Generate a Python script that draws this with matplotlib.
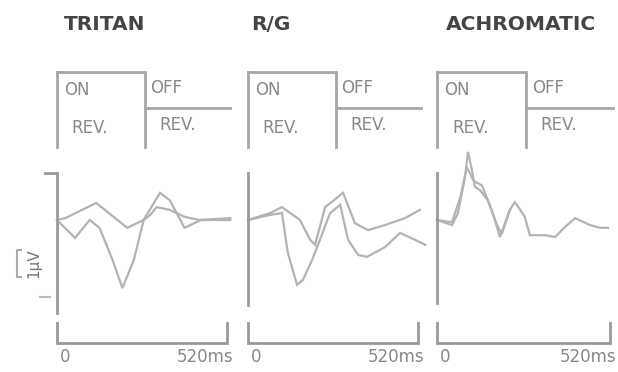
import matplotlib
matplotlib.use("Agg")
import matplotlib.pyplot as plt
from matplotlib.transforms import blended_transform_factory

# ---------------- data (time in ms, amplitude in microvolts) ----------------
titles = ["TRITAN", "R/G", "ACHROMATIC"]

tritan_t1 = [0, 25, 120, 215, 265, 315, 345, 390, 440, 530]
tritan_v1 = [0, 0.04, 0.37, -0.17, 0, 0.59, 0.43, -0.17, 0, 0]
tritan_t2 = [0, 55, 100, 130, 170, 200, 235, 265, 285, 305, 345, 390, 435, 530]
tritan_v2 = [0, -0.39, 0, -0.17, -0.87, -1.48, -0.87, 0, 0.11, 0.28, 0.22, 0.07, 0, 0.04]

rg_t1 = [0, 67, 104, 159, 190, 205, 236, 291, 327, 367, 419, 480, 526]
rg_v1 = [0, 0.15, 0.28, 0, -0.43, -0.54, 0.28, 0.59, -0.07, -0.22, -0.11, 0.04, 0.22]
rg_t2 = [0, 67, 104, 122, 150, 168, 196, 220, 251, 282, 306, 337, 364, 419, 465, 511, 542]
rg_v2 = [0, 0.11, 0.15, -0.72, -1.41, -1.30, -0.87, -0.43, 0.15, 0.33, -0.43, -0.76, -0.80,
         -0.59, -0.28, -0.43, -0.54]

ach_t1 = [0, 45, 63, 84, 93, 105, 114, 129, 153, 174, 189, 219, 234, 264, 279, 325, 355,
          385, 415, 460, 490, 514]
ach_v1 = [0, -0.11, 0.15, 0.93, 1.48, 1.09, 0.72, 0.65, 0.43, 0, -0.37, 0.22, 0.39, 0.07,
          -0.33, -0.33, -0.37, -0.15, 0.04, -0.11, -0.17, -0.17]
ach_t2 = [0, 45, 70, 90, 110, 135, 160, 180, 195, 219]
ach_v2 = [0, -0.05, 0.5, 1.15, 0.85, 0.75, 0.3, -0.1, -0.3, 0.22]

traces = [
    [(tritan_t1, tritan_v1), (tritan_t2, tritan_v2)],
    [(rg_t1, rg_v1), (rg_t2, rg_v2)],
    [(ach_t1, ach_v1), (ach_t2, ach_v2)],
]

stim_on_ms = 268
stim_end_ms = 530
time_labels = ["0", "520ms"]
amp_label = "1\u03bcV"

# ---------------- layout (pixels) ----------------
W, H = 618, 372
fig = plt.figure(figsize=(W / 100, H / 100), dpi=100)
over = fig.add_axes([0, 0, 1, 1])
over.set_xlim(0, W)
over.set_ylim(H, 0)
over.axis("off")

panel_x0 = [57, 248, 437]      # pixel of t = 0
panel_w = [170, 170, 173]      # pixels for 520 ms
vaxis_bottom = [-2.02, -1.85, -1.80]
y_zero_px = 220
px_per_uv = 46
ax_top_px, ax_bot_px = 172, 344

title_x = [105, 271, 521]

axis_col = "#999999"
trace_col = "#b3b3b3"
stim_col = "#a6a6a6"
text_col = "#888888"

for i in range(3):
    x0, w = panel_x0[i], panel_w[i]
    ax = fig.add_axes([x0 / W, 1 - ax_bot_px / H, w / W, (ax_bot_px - ax_top_px) / H])
    ax.set_xlim(0, 520)
    ax.set_ylim((y_zero_px - ax_bot_px) / px_per_uv, (y_zero_px - ax_top_px) / px_per_uv)
    ax.axis("off")

    # traces
    for t, v in traces[i]:
        ax.plot(t, v, color=trace_col, lw=1.6, clip_on=False, solid_joinstyle="miter")

    # vertical amplitude axis
    ax.plot([0, 0], [vaxis_bottom[i], 1.02], color=axis_col, lw=2, clip_on=False)
    # time axis with end ticks
    ybase = (y_zero_px - 343) / px_per_uv
    ytick = (y_zero_px - 323) / px_per_uv
    ax.plot([0, 0, 520, 520], [ytick, ybase, ybase, ytick], color=axis_col, lw=2,
            clip_on=False, solid_joinstyle="miter")

    # time labels
    tr_t = blended_transform_factory(ax.transData, over.transData)
    over.text(24, 357, time_labels[0], transform=tr_t, ha="center", va="center",
              fontsize=12, color=text_col)
    over.text(540, 357, time_labels[1], transform=tr_t, ha="right", va="center",
              fontsize=12, color=text_col)

    # stimulus diagram
    over.plot([0, 0], [147, 72], transform=tr_t, color=stim_col, lw=2)
    over.plot([0, stim_on_ms, stim_on_ms], [72, 72, 147], transform=tr_t, color=stim_col,
              lw=2, solid_joinstyle="miter")
    over.plot([stim_on_ms, stim_end_ms], [108, 108], transform=tr_t, color=stim_col, lw=2)
    over.text(22, 90, "ON", transform=tr_t, ha="left", va="center", fontsize=12,
              color=text_col)
    over.text(285, 88, "OFF", transform=tr_t, ha="left", va="center", fontsize=12,
              color=text_col)
    over.text(45, 128, "REV.", transform=tr_t, ha="left", va="center", fontsize=12,
              color=text_col)
    over.text(312, 125, "REV.", transform=tr_t, ha="left", va="center", fontsize=12,
              color=text_col)

    # title
    over.text(title_x[i], 24, titles[i], ha="center", va="center", fontsize=14.5,
              fontweight="bold", color="#444444")

# amplitude scale marks
over.plot([45, 57], [173, 173], color=axis_col, lw=2)
over.plot([40, 50], [297, 297], color="#bbbbbb", lw=1.5)
over.plot([21, 17, 17, 21], [250, 250, 277, 277], color="#aaaaaa", lw=1.5)
over.text(34, 263, amp_label, rotation=90, ha="center", va="center", fontsize=11,
          color="#777777")

fig.savefig("out.png", dpi=100)
